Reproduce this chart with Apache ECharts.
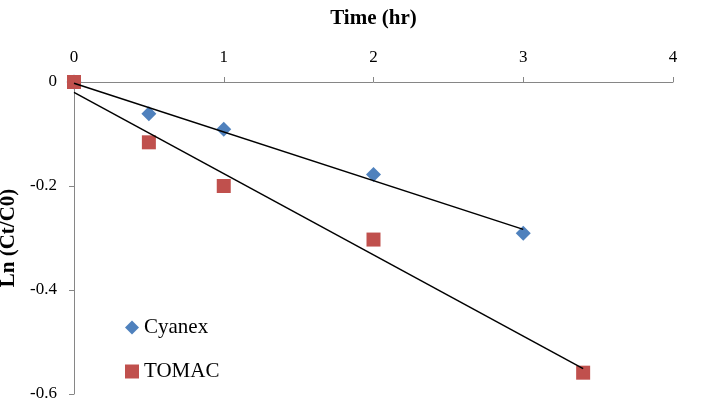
<!DOCTYPE html>
<html>
<head>
<meta charset="utf-8">
<script src="https://cdn.jsdelivr.net/npm/echarts@6/dist/echarts.min.js"></script>
<style>
    html, body { margin: 0; padding: 0; background: #fff; }
    #main { width: 702px; height: 416px; }
</style>
</head>
<body>
<div id="main"></div>
<script>
// data
var timeCyanex = [0, 0.5, 1, 2, 3];
var lnCyanex = [0, -0.061, -0.091, -0.178, -0.291];
var timeTomac = [0, 0.5, 1, 2, 3.4];
var lnTomac = [0, -0.116, -0.200, -0.303, -0.559];

var seriesNames = ['Cyanex', 'TOMAC'];
var seriesColors = ['#4F81BD', '#C0504D'];

// linear trendline (least squares), like the excel one
var trend = function (xs, ys) {
    var n = xs.length, mx = 0, my = 0, sxy = 0, sxx = 0;
    for (var i = 0; i < n; i++) { mx += xs[i] / n; my += ys[i] / n; }
    for (var j = 0; j < n; j++) {
        sxy += (xs[j] - mx) * (ys[j] - my);
        sxx += (xs[j] - mx) * (xs[j] - mx);
    }
    var k = sxy / sxx, b = my - k * mx;
    var x0 = xs[0], x1 = xs[n - 1];
    return [[x0, b + k * x0], [x1, b + k * x1]];
};

var pairs = function (xs, ys) {
    return xs.map(function (x, i) { return [x, ys[i]]; });
};

var font = 'Liberation Serif';
var axisGray = '#868686';

var myChart = echarts.init(document.getElementById('main'));
var option = {
    animation: false,
    grid: { left: 74, right: 29, top: 82, bottom: 22, containLabel: false, outerBoundsMode: 'none' },
    legend: {
        data: seriesNames,
        orient: 'vertical',
        left: 120,
        top: 312,
        itemGap: 23,
        itemWidth: 14,
        itemHeight: 14,
        textStyle: { fontFamily: font, fontSize: 21, color: '#000' }
    },
    xAxis: {
        type: 'value',
        position: 'top',
        min: 0, max: 4, interval: 1,
        name: 'Time (hr)',
        nameLocation: 'middle',
        nameGap: 53,
        nameTextStyle: { fontFamily: font, fontSize: 21, fontWeight: 'bold', color: '#000' },
        axisLine: { lineStyle: { color: axisGray, width: 1 } },
        axisTick: { length: 5, lineStyle: { color: axisGray } },
        axisLabel: { fontFamily: font, fontSize: 17, color: '#000', margin: 16 },
        splitLine: { show: false }
    },
    yAxis: {
        type: 'value',
        min: -0.6, max: 0, interval: 0.2,
        name: 'Ln (Ct/C0)',
        nameLocation: 'middle',
        nameGap: 44,
        nameTextStyle: { fontFamily: font, fontSize: 21, fontWeight: 'bold', color: '#000' },
        axisLine: { show: true, onZero: false, lineStyle: { color: axisGray, width: 1 } },
        axisTick: { show: true, length: 5, lineStyle: { color: axisGray } },
        axisLabel: { fontFamily: font, fontSize: 17, color: '#000', margin: 17 },
        splitLine: { show: false }
    },
    series: [
        {
            name: 'Cyanex', type: 'scatter', symbol: 'diamond', symbolSize: 15,
            itemStyle: { color: seriesColors[0], opacity: 1 },
            data: pairs(timeCyanex, lnCyanex)
        },
        {
            name: 'TOMAC', type: 'scatter', symbol: 'rect', symbolSize: 14,
            itemStyle: { color: seriesColors[1], opacity: 1 },
            data: pairs(timeTomac, lnTomac)
        },
        {
            name: 'trendCyanex', type: 'line', showSymbol: false, silent: true,
            lineStyle: { color: '#000', width: 1.5 },
            data: trend(timeCyanex, lnCyanex)
        },
        {
            name: 'trendTomac', type: 'line', showSymbol: false, silent: true,
            lineStyle: { color: '#000', width: 1.5 },
            data: trend(timeTomac, lnTomac)
        }
    ]
};
myChart.setOption(option);
</script>
</body>
</html>
